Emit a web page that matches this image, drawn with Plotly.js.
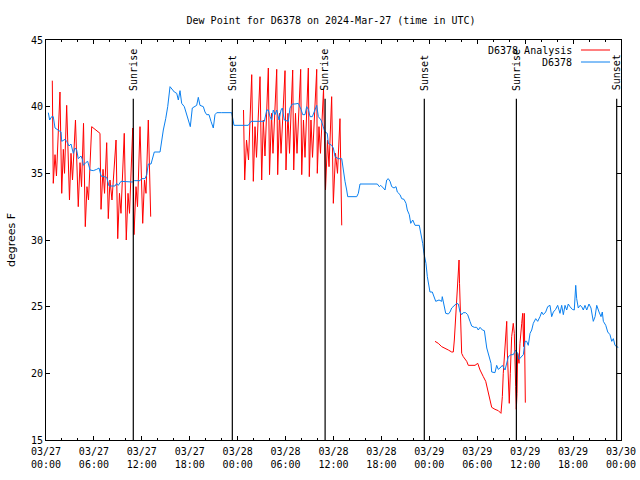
<!DOCTYPE html>
<html>
<head>
<meta charset="utf-8">
<script src="https://cdn.plot.ly/plotly-3.0.1.min.js"></script>
<style>html,body{margin:0;padding:0;background:#fff;}#chart{width:640px;height:480px;}</style>
</head>
<body>
<div id="chart"></div>
<script>
// Hours since 2024-03-27 00:00 UTC
const xTickHours = [0, 6, 12, 18, 24, 30, 36, 42, 48, 54, 60, 66, 72];
const xTickLabels = ["03/27<br>00:00","03/27<br>06:00","03/27<br>12:00","03/27<br>18:00",
  "03/28<br>00:00","03/28<br>06:00","03/28<br>12:00","03/28<br>18:00",
  "03/29<br>00:00","03/29<br>06:00","03/29<br>12:00","03/29<br>18:00","03/30<br>00:00"];

const sunLabels = ["Sunrise","Sunset","Sunrise","Sunset","Sunrise","Sunset"];
const sunHours  = [10.93, 23.33, 34.95, 47.37, 58.9, 71.46];

// D6378 observations
const obsHours = [0.29,0.46,0.71,0.91,1.13,1.54,1.88,1.97,2.38,2.59,2.88,3.13,3.42,3.63,3.84,4.04,4.38,4.55,4.67,4.97,
  5.22,5.51,5.92,6.35,6.64,6.89,7.30,7.60,7.89,8.23,8.64,8.85,9.05,9.39,9.89,10.81,11.06,11.77,11.98,12.40,
  12.61,12.81,13.15,13.56,14.28,14.49,14.69,14.99,15.24,15.53,15.82,16.07,16.37,16.57,16.78,16.99,17.32,17.62,17.82,18.07,
  18.32,18.57,18.87,19.07,19.28,19.70,19.91,20.12,20.41,20.66,20.95,21.16,21.38,22.00,23.25,23.54,24.29,25.33,25.67,26.38,
  27.34,27.64,27.84,28.05,28.26,28.46,28.68,28.89,29.18,29.43,29.59,29.84,30.34,30.55,30.84,31.18,31.59,31.93,32.14,32.43,
  32.64,32.85,33.06,33.35,33.60,33.90,34.10,34.44,34.72,34.94,35.22,35.35,35.77,35.98,36.19,36.60,37.03,37.15,37.32,37.44,
  37.65,37.78,38.91,39.11,39.32,41.49,41.74,41.91,42.24,42.45,42.66,42.86,43.08,43.29,43.58,43.83,43.99,44.33,44.54,44.83,
  45.08,45.24,45.49,45.67,45.92,46.21,46.74,46.96,47.17,47.33,47.58,47.75,48.00,48.08,48.37,48.62,48.80,49.21,49.55,49.62,
  49.87,50.05,50.38,50.59,50.80,51.13,51.43,51.63,51.84,52.05,52.25,52.55,52.80,53.09,53.30,53.63,53.93,54.13,54.35,54.64,
  54.89,55.19,55.47,55.72,55.81,56.22,56.43,56.63,56.85,57.14,57.48,57.69,57.89,58.23,58.51,58.81,59.06,59.23,59.48,59.77,
  59.98,60.19,60.39,60.61,60.82,61.02,61.32,61.57,61.86,62.07,62.27,62.57,62.82,63.11,63.32,63.53,63.82,64.07,64.36,64.57,
  64.78,64.99,65.20,65.40,65.61,65.90,66.15,66.24,66.33,66.45,66.65,66.87,67.08,67.28,67.49,67.71,67.99,68.24,68.53,68.75,
  68.96,69.25,69.50,69.66,69.79,70.09,70.34,70.62,70.84,71.04,71.25,71.46,71.66];
const obsDew = [39.55,39.0,39.25,39.25,38.4,38.25,38.1,37.4,37.55,37.4,37.05,37.2,36.5,36.9,36.75,36.1,36.3,36.05,35.6,35.8,
  35.9,35.25,35.2,35.3,35.4,34.8,34.75,34.7,34.05,34.05,34.05,34.25,34.1,34.4,34.4,34.35,34.45,34.45,34.6,34.6,
  34.9,35.7,35.7,36.6,36.6,37.6,38.25,39.1,40.0,41.5,41.25,41.1,41.0,40.5,41.2,40.25,40.0,39.4,39.1,38.5,
  39.9,40.0,40.1,40.7,40.1,40.0,39.6,39.4,39.4,38.9,38.4,39.4,39.55,39.55,39.55,38.6,38.6,38.6,38.9,38.9,
  38.9,39.75,39.75,39.25,39.0,39.75,39.4,39.75,39.0,39.75,39.9,39.0,38.9,39.9,40.2,40.2,40.25,39.8,39.4,39.4,
  40.0,39.8,39.25,39.25,39.6,40.1,39.25,39.0,38.5,38.1,38.0,37.25,37.1,36.9,36.25,36.1,36.1,35.5,35.0,34.4,
  33.75,33.25,33.25,33.5,34.2,34.2,34.0,34.1,33.9,33.75,34.5,34.6,34.4,34.0,33.9,34.0,33.6,33.4,33.1,33.05,
  32.75,32.25,31.9,31.25,31.5,31.1,31.1,30.5,29.75,29.0,28.25,27.25,26.5,26.1,26.1,25.6,25.4,25.5,25.4,25.75,
  25.1,24.5,24.45,24.6,24.9,25.1,25.25,25.2,24.6,24.4,24.55,24.55,24.4,23.9,23.55,23.45,23.45,23.25,23.45,23.25,
  23.2,21.9,21.25,20.75,20.1,20.05,20.6,20.3,20.4,20.6,20.25,20.75,21.25,21.4,21.4,21.75,21.5,21.05,21.2,21.4,
  22.4,22.4,22.1,23.0,23.25,23.75,24.1,23.9,24.25,24.6,24.4,24.6,25.0,25.1,24.25,24.6,24.8,25.1,24.5,25.1,
  24.4,25.1,24.75,25.2,25.0,24.8,24.75,26.0,26.6,25.6,24.9,25.1,25.0,24.75,25.1,24.75,25.2,24.9,23.9,24.25,
  25.1,24.6,24.25,24.6,23.9,23.6,23.1,22.9,22.4,22.6,22.1,22.0,21.95];

// D6378 Analysis (null = gap)
const anaHours = [0.79,0.91,1.13,1.31,1.75,1.97,2.17,2.32,2.59,2.94,3.13,3.32,3.69,4.04,4.26,4.45,4.70,4.92,5.13,5.32,
  5.72,6.76,6.89,7.14,7.33,7.60,7.80,8.01,8.26,8.77,8.98,9.20,9.39,9.80,10.05,10.27,10.46,10.86,11.02,11.27,
  11.46,11.77,12.11,12.33,12.52,12.81,13.11,13.5,
  24.73,24.88,25.11,25.36,25.76,25.96,26.17,26.36,26.80,27.01,27.21,27.42,27.84,27.99,28.24,28.42,28.89,29.01,29.24,29.43,
  29.93,30.05,30.30,30.49,30.89,31.02,31.24,31.43,31.89,32.02,32.24,32.43,32.85,32.97,33.18,33.37,33.90,33.97,34.18,34.37,
  34.75,35.00,35.25,35.44,35.77,35.98,36.25,36.50,36.81,37.03,37.5,
  48.71,49.12,49.55,49.96,50.38,50.80,51.00,51.13,51.30,51.47,51.63,51.72,51.78,51.88,51.97,52.05,52.25,52.68,52.88,53.72,
  54.06,54.35,54.76,55.06,55.31,55.60,55.81,56.22,56.64,56.97,57.14,57.26,57.39,57.56,57.69,57.76,57.89,58.01,58.14,58.31,
  58.51,58.64,58.81,58.89,58.98,59.06,59.23,59.35,59.57,59.69,59.81,59.89,60.02];
const anaDew = [41.95,34.25,36.4,34.8,41.1,33.5,36.8,35.0,40.1,33.0,36.5,34.5,39.0,32.5,35.8,34.0,38.75,31.0,34.0,33.0,
  38.5,38.0,32.3,35.3,33.5,37.3,31.6,34.5,33.0,37.5,30.1,33.5,32.0,38.0,30.0,33.5,32.0,38.4,30.4,34.0,
  32.5,38.5,31.25,34.5,33.5,39.0,31.75,null,
  39.75,34.5,37.5,36.0,42.4,34.4,38.5,36.2,42.25,34.5,39.0,36.3,42.9,34.9,39.5,36.5,42.8,34.9,39.5,36.5,
  42.7,35.25,39.5,36.5,42.75,35.25,39.5,36.5,42.8,34.9,39.0,36.2,42.9,34.75,39.0,36.2,42.8,35.0,38.5,36.5,
  41.3,33.75,37.5,35.5,40.75,32.75,36.5,35.0,39.1,31.1,null,
  22.4,22.25,22.0,21.9,21.75,21.6,21.6,22.5,24.5,26.0,27.75,28.5,26.75,25.25,23.0,21.5,21.25,20.9,20.6,20.6,
  20.75,20.25,19.75,19.4,18.75,18.0,17.45,17.3,17.2,17.0,18.25,20.0,21.0,22.25,23.9,21.75,18.75,17.75,20.0,22.75,
  23.75,23.0,19.0,17.3,18.5,21.5,20.75,22.25,23.75,24.5,22.0,24.5,17.8];

const MONO = "DejaVu Sans Mono, monospace";
const RED = "#ff0000", BLUE = "#0a80f0";

const traces = [
  {x: anaHours, y: anaDew, type: "scatter", mode: "lines", name: "D6378 Analysis",
   line: {color: RED, width: 1}, connectgaps: false, showlegend: false, hoverinfo: "skip"},
  {x: obsHours, y: obsDew, type: "scatter", mode: "lines", name: "D6378",
   line: {color: BLUE, width: 1}, showlegend: false, hoverinfo: "skip"}
];

const shapes = sunHours.map(h => ({type: "line", xref: "x", yref: "y", x0: h, x1: h, y0: 15, y1: 40.6,
  line: {color: "#000", width: 1.2}}));
const annotations = sunHours.map((h, i) => ({xref: "x", yref: "y", x: h, y: 40.6, text: sunLabels[i],
  textangle: -90, showarrow: false, xanchor: "center", yanchor: "bottom", yshift: 6,
  font: {family: MONO, size: 10, color: "#000"}}));

// manual key (gnuplot style: text then line sample)
const keyNames = [traces[0].name, traces[1].name];
const keyColors = [RED, BLUE];
const keyY = [0.975, 0.945];
keyNames.forEach((n, i) => {
  annotations.push({xref: "paper", yref: "paper", x: 0.9183, y: keyY[i], text: n, showarrow: false,
    xanchor: "right", yanchor: "middle", font: {family: MONO, size: 10, color: "#000"}});
  shapes.push({type: "line", xref: "paper", yref: "paper", x0: 0.9304, x1: 0.9809, y0: keyY[i], y1: keyY[i],
    line: {color: keyColors[i], width: 1}});
});

const layout = {
  width: 640, height: 480,
  margin: {l: 46, r: 19, t: 40, b: 40, pad: 0},
  paper_bgcolor: "#fff", plot_bgcolor: "#fff",
  title: {text: "Dew Point for D6378 on 2024-Mar-27 (time in UTC)", font: {family: MONO, size: 10, color: "#000"},
    x: 0.4957, xref: "paper", xanchor: "center", y: 1 - 20/480, yref: "container", yanchor: "middle"},
  xaxis: {range: [0, 72], tickmode: "array", tickvals: xTickHours, ticktext: xTickLabels,
    ticks: "inside", ticklen: 4, tickcolor: "#000", showline: true, linecolor: "#000", linewidth: 1,
    mirror: "ticks", showgrid: false, zeroline: false, ticklabelstandoff: 2,
    tickfont: {family: MONO, size: 10, color: "#000"},
    minor: {tickmode: "linear", tick0: 0, dtick: 2, ticks: "inside", ticklen: 2, tickcolor: "#000", showgrid: false}},
  yaxis: {range: [15, 45], tickmode: "linear", tick0: 15, dtick: 5,
    ticks: "inside", ticklen: 4, tickcolor: "#000", showline: true, linecolor: "#000", linewidth: 1,
    mirror: "ticks", showgrid: false, zeroline: false,
    tickfont: {family: MONO, size: 10, color: "#000"},
    title: {text: "degrees F", font: {family: "DejaVu Sans, sans-serif", size: 11, color: "#000"}, standoff: 13}},
  shapes: shapes,
  annotations: annotations,
  showlegend: false
};

Plotly.newPlot("chart", traces, layout, {staticPlot: true, displayModeBar: false});
</script>
</body>
</html>
